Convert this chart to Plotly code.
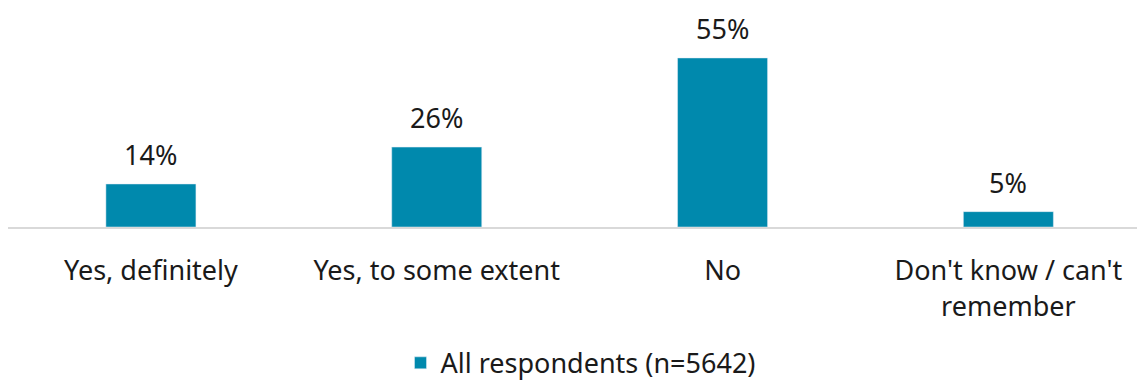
import plotly.graph_objects as go

categories = ["Yes, definitely", "Yes, to some extent", "No", "Don't know / can't<br>remember"]
values = [14, 26, 55, 5]
series_name = "All respondents (n=5642)"

BAR_COLOR = "#0089AD"
FONT = "'Noto Sans', sans-serif"
TEXT = "#1a1a1a"

fig = go.Figure()
fig.add_trace(go.Bar(
    x=categories, y=values, name=series_name,
    marker_color=BAR_COLOR, width=0.315,
))
# value labels sit above each bar
for c, v in zip(categories, values):
    fig.add_annotation(x=c, y=v, text=f"{v}%", showarrow=False,
                       yanchor="bottom", yshift=9,
                       font=dict(size=27, color=TEXT))

fig.update_layout(
    width=1145, height=384,
    margin=dict(l=0, r=0, t=2, b=164.5, autoexpand=False),
    plot_bgcolor="white", paper_bgcolor="white",
    font=dict(family=FONT, size=27, color=TEXT),
    showlegend=True,
    legend=dict(orientation="h", x=0.5, xanchor="center", y=-0.628, yanchor="middle",
                font=dict(size=27)),
    xaxis=dict(range=[-0.5, 3.506], showgrid=False, showline=True, linecolor="#D9D9D9",
               linewidth=2, ticks="", ticklabelstandoff=19, tickfont=dict(size=27)),
    yaxis=dict(range=[0, 70.6], visible=False),
)
fig.write_html("out.html")
